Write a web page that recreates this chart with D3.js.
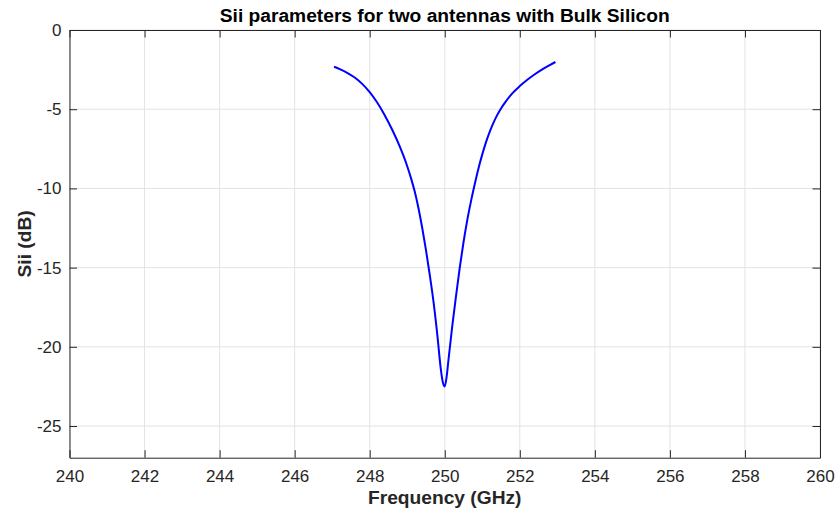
<!DOCTYPE html>
<html>
<head>
<meta charset="utf-8">
<script src="https://cdn.jsdelivr.net/npm/d3@7"></script>
<style>
  html, body { margin: 0; padding: 0; background: #fff; }
  svg { display: block; font-family: "Liberation Sans", Arial, Helvetica, sans-serif; }
</style>
</head>
<body>
<svg id="chart" width="836" height="514"></svg>
<script>
// ---- Data ----
const frequency = [247.05, 247.2, 247.4, 247.6, 247.8, 248.0, 248.2, 248.4, 248.6, 248.8,
                   249.0, 249.1, 249.2, 249.3, 249.4, 249.5, 249.6, 249.7, 249.8, 249.9,
                   249.95, 250.0, 250.05, 250.1, 250.2, 250.3, 250.4, 250.5, 250.6, 250.7,
                   250.8, 250.9, 251.0, 251.1, 251.2, 251.3, 251.4, 251.5, 251.6, 251.8,
                   252.0, 252.2, 252.4, 252.6, 252.8, 252.95];
const sii = [-2.32, -2.47, -2.70, -3.00, -3.40, -3.92, -4.58, -5.38, -6.30, -7.35,
             -8.60, -9.35, -10.2, -11.25, -12.5, -13.9, -15.45, -17.15, -19.2, -21.5,
             -22.25, -22.5, -21.9, -20.8, -18.7, -16.8, -15.0, -13.4, -12.0, -10.8,
             -9.72, -8.72, -7.85, -7.08, -6.42, -5.85, -5.36, -4.95, -4.60, -4.00,
             -3.54, -3.14, -2.79, -2.48, -2.21, -2.02];
const xTicks = [240, 242, 244, 246, 248, 250, 252, 254, 256, 258, 260];
const yTicks = [0, -5, -10, -15, -20, -25];
const xDomain = [240, 260];
const yDomain = [-27, 0];
const titleText = "Sii parameters for two antennas with Bulk Silicon";
const xLabelText = "Frequency (GHz)";
const yLabelText = "Sii (dB)";

// ---- Layout ----
const svg = d3.select("#chart");
const pLeft = 69.5, pRight = 820, pTop = 30, pBottom = 457.7;
const x = d3.scaleLinear().domain(xDomain).range([pLeft, pRight]);
const y = d3.scaleLinear().domain(yDomain).range([pBottom, pTop]);
const axisColor = "#262626";
const gridColor = "#e3e3e3";
const fmt = d => String(d);  // hyphen-minus like the reference

// Grid
const grid = svg.append("g");
grid.selectAll("line.gx").data(xTicks).enter().append("line")
  .attr("x1", d => x(d)).attr("x2", d => x(d))
  .attr("y1", pTop).attr("y2", pBottom)
  .attr("stroke", gridColor).attr("stroke-width", 1);
grid.selectAll("line.gy").data(yTicks).enter().append("line")
  .attr("x1", pLeft).attr("x2", pRight)
  .attr("y1", d => y(d)).attr("y2", d => y(d))
  .attr("stroke", gridColor).attr("stroke-width", 1);

// Curve
const line = d3.line().x((d, i) => x(frequency[i])).y(d => y(d)).curve(d3.curveMonotoneX);
svg.append("path").datum(sii)
  .attr("d", line)
  .attr("fill", "none")
  .attr("stroke", "#0000ff")
  .attr("stroke-width", 2)
  .attr("stroke-linejoin", "round");

// Axes (box with inward ticks)
const tickLen = 7.5;
const fs = 17;
const xAxisB = d3.axisBottom(x).tickValues(xTicks).tickSizeInner(-tickLen).tickSizeOuter(0).tickPadding(12).tickFormat(fmt);
const xAxisT = d3.axisTop(x).tickValues(xTicks).tickSizeInner(-tickLen).tickSizeOuter(0).tickFormat("");
const yAxisL = d3.axisLeft(y).tickValues(yTicks).tickSizeInner(-tickLen).tickSizeOuter(0).tickPadding(8).tickFormat(fmt);
const yAxisR = d3.axisRight(y).tickValues(yTicks).tickSizeInner(-tickLen).tickSizeOuter(0).tickFormat("");

function style(g) {
  g.select(".domain").attr("stroke", axisColor).attr("stroke-width", 1);
  g.selectAll(".tick line").attr("stroke", axisColor).attr("stroke-width", 1);
  g.selectAll(".tick text").attr("fill", axisColor).attr("font-size", fs)
    .attr("font-family", "'Liberation Sans', Arial, Helvetica, sans-serif");
}
svg.append("g").attr("transform", `translate(0,${pBottom})`).call(xAxisB).call(style);
svg.append("g").attr("transform", `translate(0,${pTop})`).call(xAxisT).call(style);
svg.append("g").attr("transform", `translate(${pLeft},0)`).call(yAxisL).call(style);
svg.append("g").attr("transform", `translate(${pRight},0)`).call(yAxisR).call(style);

// Title and labels
svg.append("text").attr("x", (pLeft + pRight) / 2).attr("y", 22)
  .attr("text-anchor", "middle").attr("font-weight", "bold").attr("font-size", 19.2)
  .attr("fill", "#000").text(titleText);
svg.append("text").attr("x", (pLeft + pRight) / 2).attr("y", 504)
  .attr("text-anchor", "middle").attr("font-weight", "bold").attr("font-size", 19.2)
  .attr("fill", axisColor).text(xLabelText);
svg.append("text").attr("transform", `translate(31,${(pTop + pBottom) / 2}) rotate(-90)`)
  .attr("text-anchor", "middle").attr("font-weight", "bold").attr("font-size", 19.2)
  .attr("fill", axisColor).text(yLabelText);
</script>
</body>
</html>
